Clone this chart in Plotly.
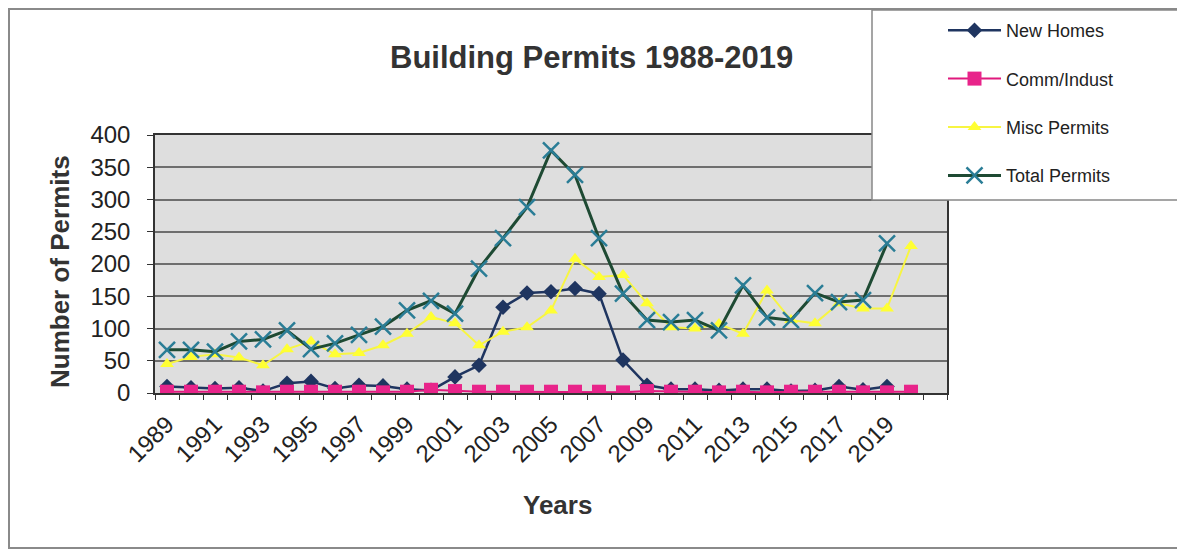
import plotly.graph_objects as go

years = list(range(1989, 2021))
tick_years = list(range(1989, 2020, 2))

new_homes = [10, 8, 7, 8, 3, 15, 18, 7, 12, 11, 6, 4, 25, 43, 133, 155,
             157, 162, 154, 51, 12, 6, 6, 4, 6, 6, 3, 4, 10, 5, 10]
comm_indust = [2, 2, 2, 2, 1, 2, 2, 2, 2, 1, 2, 5, 3, 2, 2, 2,
               2, 2, 2, 1, 3, 2, 2, 1, 2, 1, 2, 2, 2, 1, 1, 2]
misc_permits = [45, 56, 60, 55, 43, 68, 80, 60, 62, 74, 92, 118, 108, 74, 95, 102,
                128, 208, 180, 183, 139, 102, 100, 107, 92, 159, 113, 108, 139, 131, 131, 228]
total_permits = [67, 67, 64, 80, 83, 97, 68, 77, 90, 103, 128, 143, 123, 193, 240, 288,
                 376, 338, 240, 154, 113, 110, 113, 97, 167, 117, 113, 155, 141, 144, 232]

W, H = 1185, 552
OFF = 8  # page body margin
L, R, T, B = 155, 947, 135, 393   # plot area in screen pixels
pw, ph = R - L, B - T

def px(x):
    return (x - L) / pw

def py(y):
    return (B - y) / ph

fig = go.Figure()
fig.add_trace(go.Scatter(
    x=years[:len(new_homes)], y=new_homes, name="New Homes", legendgroup="a",
    mode="lines+markers", line=dict(color="#1f3560", width=2.5),
    marker=dict(symbol="diamond", size=12, color="#1f3560")))
fig.add_trace(go.Scatter(
    x=years[:len(comm_indust)], y=comm_indust, name="Comm/Indust", legendgroup="b",
    mode="lines+markers", line=dict(color="#e0197d", width=2),
    marker=dict(symbol="square", size=14, color="#e8248a")))
fig.add_trace(go.Scatter(
    x=years[:len(misc_permits)], y=misc_permits, name="Misc Permits", legendgroup="c",
    mode="lines+markers", line=dict(color="#f7f542", width=2),
    marker=dict(symbol="triangle-up", size=12, color="#ffff33")))
fig.add_trace(go.Scatter(
    x=years[:len(total_permits)], y=total_permits, name="Total Permits", legendgroup="d",
    mode="lines+markers", line=dict(color="#1e4a33", width=3),
    marker=dict(symbol="x-thin-open", size=16, color="#2a7d96",
                line=dict(width=2.5, color="#2a7d96"))))

font_main = "Liberation Sans, Arial, sans-serif"

fig.update_layout(
    width=W, height=H,
    margin=dict(l=L - OFF, r=W - (R - OFF), t=T - OFF, b=H - (B - OFF),
                autoexpand=False),
    paper_bgcolor="white",
    plot_bgcolor="#dedede",
    font=dict(family=font_main, color="#222222"),
    showlegend=True,
    legend=dict(
        x=px(943), y=py(12), xanchor="left", yanchor="top",
        bgcolor="rgba(0,0,0,0)", borderwidth=0,
        font=dict(size=18, color="#222222", family=font_main),
        itemwidth=53, tracegroupgap=22, traceorder="grouped",
    ),
    xaxis=dict(
        range=[1988.5, 2021.5],
        tickmode="array", tickvals=tick_years, ticktext=[str(y) for y in tick_years],
        tickangle=-45, ticks="", showgrid=False, zeroline=False,
        showline=True, linecolor="#333333", linewidth=1.5, mirror=True,
        tickfont=dict(size=24, color="#222222"), ticklabelstandoff=6,
        minor=dict(tickmode="linear", tick0=1988.5, dtick=1, ticks="outside",
                   ticklen=5, tickcolor="#333333", tickwidth=1, showgrid=False),
    ),
    yaxis=dict(
        range=[0, 400], dtick=50, tick0=0,
        ticks="outside", ticklen=6, tickcolor="#333333",
        showgrid=True, gridcolor="#6e6e6e", gridwidth=1.5, zeroline=False,
        showline=True, linecolor="#333333", linewidth=1.5, mirror=True,
        tickfont=dict(size=24, color="#222222"), ticklabelstandoff=12,
    ),
    shapes=[
        dict(type="rect", xref="paper", yref="paper",
             x0=px(9), x1=px(1200), y0=py(548), y1=py(9),
             line=dict(color="#8a8a8a", width=2), fillcolor="rgba(0,0,0,0)",
             layer="below"),
        dict(type="rect", xref="paper", yref="paper",
             x0=px(872), x1=px(1200), y0=py(200), y1=py(10),
             line=dict(color="#888888", width=1.5), fillcolor="white",
             layer="above"),
    ],
    annotations=[
        dict(text="<b>Building Permits 1988-2019</b>", xref="paper", yref="paper",
             x=px(591), y=py(58), xanchor="center", yanchor="middle",
             showarrow=False, font=dict(size=31, color="#333333")),
        dict(text="<b>Number of Permits</b>", xref="paper", yref="paper",
             x=px(60), y=py(272), xanchor="center", yanchor="middle",
             textangle=-90, showarrow=False, font=dict(size=26, color="#333333")),
        dict(text="<b>Years</b>", xref="paper", yref="paper",
             x=px(557), y=py(505), xanchor="center", yanchor="middle",
             showarrow=False, font=dict(size=26, color="#333333")),
    ],
)

fig.write_html("out.html")
